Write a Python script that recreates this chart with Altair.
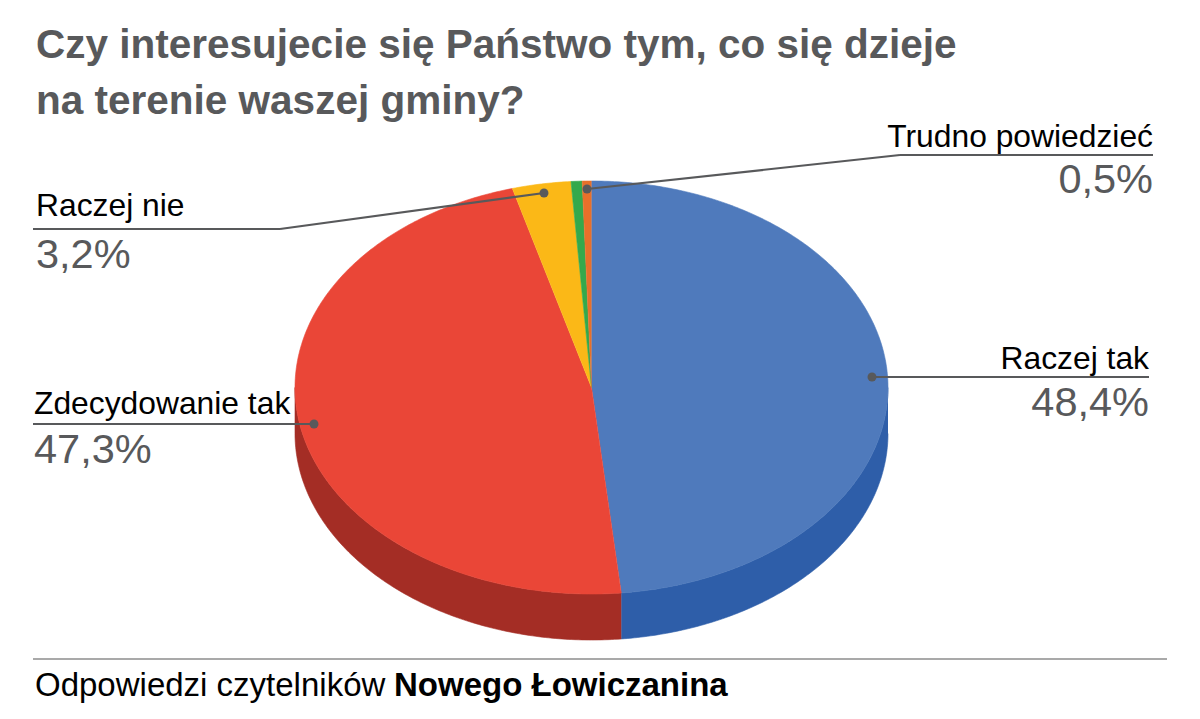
import math
import altair as alt
import pandas as pd

slices = ["Raczej tak", "Zdecydowanie tak", "Raczej nie", "Brak", "Trudno powiedzieć"]
values = [48.4, 47.3, 3.2, 0.6, 0.5]
top_colors = ["#4f7abc", "#ea4637", "#fbb817", "#34a94c", "#e8702a"]
side_colors = ["#2e5ea9", "#a42d25", "#c08c10", "#26803a", "#b0551f"]

title_lines = ["Czy interesujecie się Państwo tym, co się dzieje", "na terenie waszej gminy?"]
footer_plain = "Odpowiedzi czytelników"
footer_bold = "Nowego Łowiczanina"

W, H = 1184, 703
CX, CY, RX, RY, DEPTH = 591.5, 387.5, 296.5, 206.5, 46.0
GREY = "#58595b"
SANS = "Liberation Sans"

xs = alt.Scale(domain=[(8 - CX) / RX, (8 + W - CX) / RX], range=[0, W])
ys = alt.Scale(domain=[(CY - 8 - H) / RY, (CY - 8) / RY], range=[H, 0])
depth = DEPTH / RY

total = sum(values)
rows_top, rows_side = [], []
start = 0.0
for name, v, ct, cs in zip(slices, values, top_colors, side_colors):
    end = start + v / total * 2 * math.pi
    n = max(3, int((end - start) * 90))
    angs = [start + (end - start) * i / n for i in range(n + 1)]
    pts = [(0.0, 0.0)] + [(math.sin(a), math.cos(a)) for a in angs]
    rows_top += [dict(s=name, c=ct, x=p[0], y=p[1], o=i) for i, p in enumerate(pts)]
    lo, hi = max(start, math.pi / 2), min(end, 3 * math.pi / 2)
    if hi > lo:
        m = max(3, int((hi - lo) * 90))
        arc = [lo + (hi - lo) * i / m for i in range(m + 1)]
        ring = [(math.sin(a), math.cos(a)) for a in arc] + \
               [(math.sin(a), math.cos(a) - depth) for a in reversed(arc)]
        rows_side += [dict(s=name, c=cs, x=p[0], y=p[1], o=i) for i, p in enumerate(ring)]
    start = end


def wedge(rows):
    return alt.Chart(pd.DataFrame(rows)).mark_line(strokeWidth=0.6).encode(
        x=alt.X("x:Q", scale=xs, axis=None),
        y=alt.Y("y:Q", scale=ys, axis=None),
        order="o:Q",
        detail="s:N",
        fill=alt.Fill("c:N", scale=None),
        stroke=alt.Stroke("c:N", scale=None),
    )


def px(x):
    return alt.value(x - 8)


def py(y):
    return alt.value(y - 8)


def text(s, x, base, size, color="#000000", align="left", weight="normal"):
    return alt.Chart(pd.DataFrame({"t": [s]})).mark_text(
        align=align, baseline="alphabetic", font=SANS, fontSize=size,
        color=color, fontWeight=weight
    ).encode(x=px(x), y=py(base), text="t:N")


def seg(x1, y1, x2, y2, color=GREY, w=2.2):
    return alt.Chart().mark_rule(color=color, strokeWidth=w).encode(
        x=px(x1), x2=px(x2), y=py(y1), y2=py(y2))


def dot(x, y):
    return alt.Chart().mark_point(filled=True, size=80, color=GREY, opacity=1).encode(
        x=px(x), y=py(y))


layers = [wedge(rows_side), wedge(rows_top)]
layers += [
    seg(33, 229, 280, 229), seg(280, 229, 544, 193), dot(544, 193),
    seg(1153, 155, 900, 155), seg(900, 155, 587, 189), dot(587, 189),
    seg(872, 377, 1149, 377), dot(872, 377),
    seg(33, 424, 314, 424), dot(314, 424),
    seg(33, 659, 1167, 659, "#555555", 1.2),
    text(title_lines[0], 36, 58, 40.5, GREY, weight="bold"),
    text(title_lines[1], 36, 114, 40.5, GREY, weight="bold"),
    text(slices[2], 36, 216, 31.8),
    text("3,2%", 36, 268, 41.5, GREY),
    text(slices[4], 1153, 147, 31.8, align="right"),
    text("0,5%", 1153, 193, 41.5, GREY, align="right"),
    text(slices[0], 1149, 369, 31.8, align="right"),
    text("48,4%", 1149, 416, 41.5, GREY, align="right"),
    text(slices[1], 34, 414, 31.8),
    text("47,3%", 34, 463, 41.5, GREY),
    text(footer_plain, 35, 696, 33),
    text(footer_bold, 394, 696, 33, weight="bold"),
]

chart = alt.layer(*layers).properties(
    width=W, height=H, padding=0, autosize=alt.AutoSizeParams(type="none"),
    background="#ffffff"
).configure_view(stroke=None)

chart.save("out.html", embed_options={"renderer": "svg", "actions": False})
